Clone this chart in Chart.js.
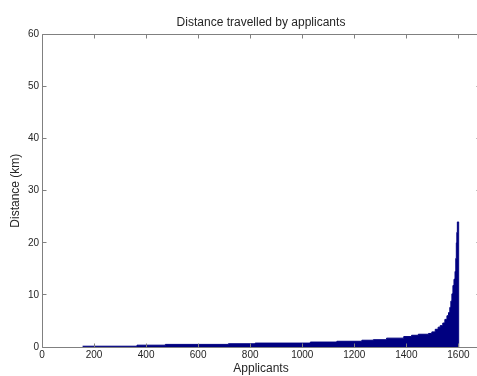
<!DOCTYPE html>
<html>
<head>
<meta charset="utf-8">
<title>Distance travelled by applicants</title>
<script src="https://cdn.jsdelivr.net/npm/chart.js@4.4.1/dist/chart.umd.min.js"></script>
<style>
  html, body { margin: 0; padding: 0; background: #fff; overflow: hidden; }
  #distanceChart { display: block; }
</style>
</head>
<body>
<canvas id="distanceChart" width="482" height="376"></canvas>
<script>
// Applicants sorted by distance. Each run starts at an applicant index and keeps one distance (km)
// until the next run starts; the last entry closes the series.
const runStart = [
  0, 156, 365, 474, 716, 819, 1031, 1133, 1229, 1273, 1324, 1390, 1420, 1446,
  1485, 1498, 1511, 1522, 1530, 1540, 1548, 1556, 1562, 1567, 1571, 1575, 1579,
  1583, 1587, 1590, 1592, 1594, 1596, 1601
];
const runDistance = [
  0, 0.15, 0.35, 0.5, 0.62, 0.75, 0.95, 1.1, 1.3, 1.4, 1.7, 2.0, 2.25, 2.45,
  2.6, 2.9, 3.4, 3.8, 4.1, 4.6, 5.3, 6.0, 6.6, 7.6, 8.8, 10.2, 11.8,
  13.0, 14.5, 17, 20, 22, 24, 0
];

const applicantTicks = [0, 200, 400, 600, 800, 1000, 1200, 1400, 1600];
const distanceTicks = [0, 10, 20, 30, 40, 50, 60];
const applicantMax = 1683;

const fontFamily = '"Liberation Sans", Arial, Helvetica, sans-serif';
const frameColor = '#808080';
const textColor = '#262626';
const barColor = '#000080';

// box round the plot with short ticks pointing inwards, drawn over the bars
const boxAxes = {
  id: 'boxAxes',
  afterDatasetsDraw(chart) {
    const { ctx, chartArea, scales } = chart;
    const px = v => Math.floor(v) + 0.5;
    const left = px(chartArea.left), right = px(chartArea.right);
    const top = px(chartArea.top), bottom = px(chartArea.bottom);
    const len = 4;

    ctx.save();
    ctx.strokeStyle = frameColor;
    ctx.lineWidth = 1;
    ctx.beginPath();
    ctx.rect(left, top, right - left, bottom - top);

    scales.x.ticks.forEach(t => {
      const xp = px(scales.x.getPixelForValue(t.value));
      ctx.moveTo(xp, bottom); ctx.lineTo(xp, bottom - len);
      ctx.moveTo(xp, top); ctx.lineTo(xp, top + len);
    });
    scales.y.ticks.forEach(t => {
      const yp = px(scales.y.getPixelForValue(t.value));
      ctx.moveTo(left, yp); ctx.lineTo(left + len, yp);
      ctx.moveTo(right, yp); ctx.lineTo(right - len, yp);
    });
    ctx.stroke();
    ctx.restore();
  }
};

const tickFont = { family: fontFamily, size: 10 };
const labelFont = { family: fontFamily, size: 12 };
const plainNumber = v => String(v);

const config = {
  type: 'line',
  data: {
    datasets: [{
      label: 'Distance (km)',
      data: runStart.map((a, i) => ({ x: a, y: runDistance[i] })),
      stepped: 'before',
      fill: 'origin',
      backgroundColor: barColor,
      borderColor: barColor,
      borderWidth: 1,
      pointRadius: 0,
      segment: {
        // no outline along the zero-distance stretch
        borderColor: c => c.p0.parsed.y === 0 ? 'rgba(0,0,0,0)' : undefined
      }
    }]
  },
  options: {
    responsive: false,
    animation: false,
    events: [],
    layout: { padding: { left: 0, right: 2, top: 0, bottom: 0 } },
    plugins: {
      legend: { display: false },
      tooltip: { enabled: false },
      title: {
        display: true,
        fullSize: false,
        text: 'Distance travelled by applicants',
        color: textColor,
        font: { ...labelFont, weight: 'normal' },
        padding: { top: 15, bottom: 5 }
      }
    },
    scales: {
      x: {
        type: 'linear',
        min: 0,
        max: applicantMax,
        grid: { display: false, drawTicks: false },
        border: { display: false },
        ticks: { color: textColor, font: tickFont, padding: 2, maxRotation: 0, autoSkip: false, callback: plainNumber },
        afterBuildTicks: s => { s.ticks = applicantTicks.map(v => ({ value: v })); },
        afterFit: s => { s.height = 29; },
        title: { display: true, text: 'Applicants', color: textColor, font: labelFont, padding: 0 }
      },
      y: {
        min: 0,
        max: 60,
        grid: { display: false, drawTicks: false },
        border: { display: false },
        ticks: { color: textColor, font: tickFont, padding: 3, callback: plainNumber },
        afterBuildTicks: s => { s.ticks = distanceTicks.map(v => ({ value: v })); },
        afterFit: s => { s.width = 42; },
        title: { display: true, text: 'Distance (km)', color: textColor, font: labelFont, padding: { top: 8, bottom: 0 } }
      }
    }
  },
  plugins: [boxAxes]
};

new Chart(document.getElementById('distanceChart'), config);
</script>
</body>
</html>
